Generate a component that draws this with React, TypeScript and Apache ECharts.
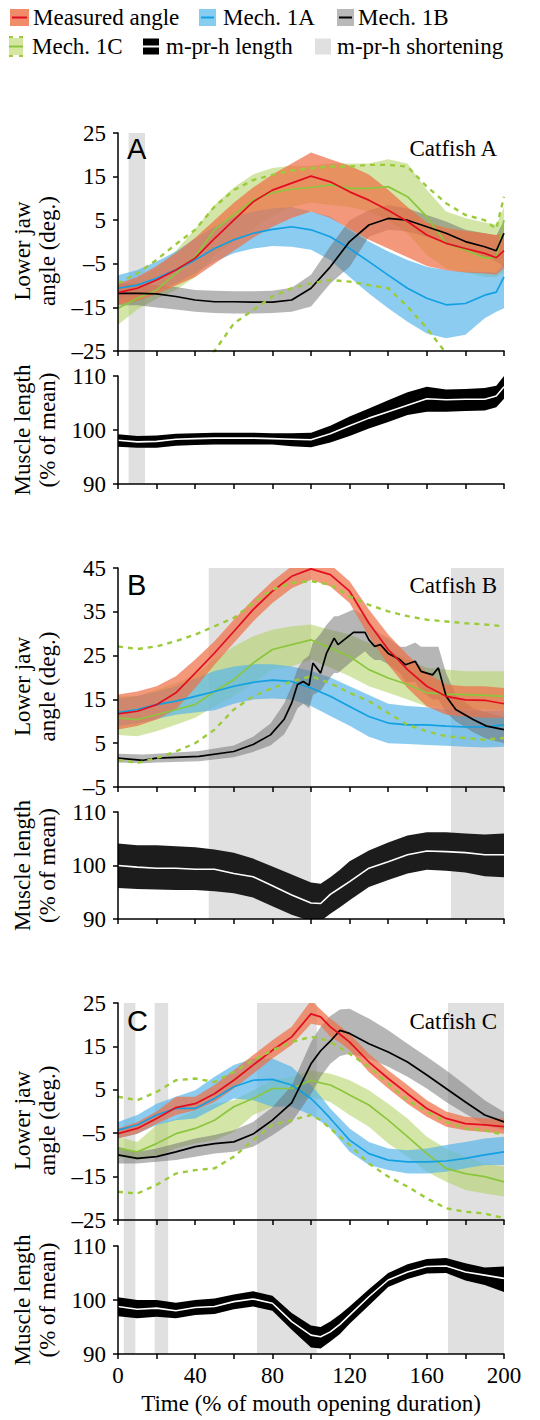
import React, { useEffect, useRef } from "react";
import * as echarts from "echarts";

// ---------- x positions (% of mouth opening duration) ----------
const X21 = [0, 10, 20, 30, 40, 50, 60, 70, 80, 90, 100, 110, 120, 130, 140, 150, 160, 170, 180, 190, 200];
const XA = [0, 10, 20, 30, 40, 50, 60, 70, 80, 90, 100, 110, 120, 130, 140, 150, 160, 170, 180, 190, 196, 200];
const X23 = [0, 10, 20, 30, 40, 50, 60, 70, 80, 90, 100, 105, 110, 115, 120, 130, 140, 150, 160, 170, 180, 190, 200];
const XB1 = [0, 13, 20, 42, 60, 70, 79, 86, 90, 93, 96, 99, 101, 105, 108, 112, 114, 122, 128, 130, 133, 136, 140, 143, 146, 149, 154, 157, 163, 166, 170, 175, 184, 191, 200];

// ---------- Catfish A ----------
const aMeasMean = [-11.6, -10.6, -8.7, -6.4, -3.7, 0.8, 5.0, 9.2, 11.9, 13.5, 15.1, 13.8, 11.5, 9.6, 7.3, 4.7, 1.6, -0.3, -1.5, -2.6, -3.6, -2.0];
const aMeasHi = [-9.5, -8, -5.5, -2.5, 1, 5, 9, 12.5, 15.5, 18, 20.5, 19, 17.5, 15.5, 12, 8, 4.5, 3.2, 2.5, 2, 1.6, 2];
const aMeasLo = [-14.4, -13.5, -12, -10, -8, -5, -2, 1, 3.5, 5.5, 7, 5.5, 3, 0.5, -1.5, -3.5, -5.5, -6.5, -7, -7.2, -7.5, -6];
const aBlueMean = [-10.6, -9.9, -8.3, -6.4, -4.1, -1.5, 0.5, 2.0, 2.9, 3.5, 2.8, 1.2, -1.5, -4.5, -7.6, -10.6, -12.9, -14.4, -14.1, -12.2, -11.5, -8.0];
const aBlueHi = [-7.6, -6.4, -4.5, -2.2, 0.8, 3.5, 5.8, 7.0, 7.7, 8.0, 7.0, 5.8, 2.8, 0.1, -2.2, -4.1, -5.7, -6.4, -6.8, -6.8, -7.0, -4.9];
const aBlueLo = [-12.9, -12.2, -11.0, -9.5, -7.2, -4.5, -2.6, -1.5, -0.9, -1.1, -1.8, -4.1, -8.0, -11.8, -15.2, -18.3, -21.0, -22.1, -21.3, -17.5, -16.0, -15.2];
const aBlackMean = [-11.8, -11.8, -11.9, -12.5, -13.3, -13.7, -13.7, -13.8, -13.8, -13.3, -10.6, -5.7, 0.1, 3.9, 5.4, 5.0, 3.5, 2.0, 0.1, -1.1, -2.0, 2.0];
const aGrayHi = [-9.5, -9.5, -10, -10.3, -11, -11.2, -11.3, -11.3, -11.2, -10.5, -7.5, -1, 5, 7.3, 8.5, 7.7, 6.2, 4.7, 2.8, 2, 1.5, 5];
const aGrayLo = [-14.5, -14.5, -15, -15.5, -16, -16.3, -16.4, -16.4, -16.3, -16, -14.8, -9.5, -5.7, 1.2, 2.8, 2.4, 1.2, -0.3, -2.2, -3.4, -4.5, -5.7];
const aGreenMean = [-15.2, -12.9, -11.0, -7.2, -3.4, 2.8, 6.2, 9.6, 11.3, 12.1, 12.5, 13.1, 12.3, 12.3, 12.7, 10.4, 5.8, -0.3, -1.8, -3.7, -3.6, 5.0];
const aGreenHi = [-10, -8.5, -6, -2, 3, 8.5, 12.5, 15.5, 17, 17.5, 17.5, 18, 18, 18, 19, 18, 12, 7, 5.5, 4.5, 4, 8];
const aGreenLo = [-19, -15.5, -13, -11, -8, -3, 0, 3, 6, 8, 9, 8.5, 8, 7, 5, 2, -3, -6, -7, -8, -8, -7];
const aGreenUp = [-9.5, -7.2, -4.1, -0.5, 2.8, 8.1, 11.9, 14.2, 15.4, 16.4, 16.9, 17.3, 17.3, 17.7, 17.7, 17.3, 12.7, 8.9, 6.2, 5.0, 3.0, 10.4];
const aGreenDown = [null, null, null, null, -31, -25, -18.7, -15.6, -12.5, -10.6, -9.5, -8.7, -9.1, -9.9, -10.6, -14.8, -19.8, -25.5, -32, null, null, null];
const aMuscleMean = [98.1, 97.8, 97.9, 98.3, 98.4, 98.5, 98.5, 98.5, 98.4, 98.3, 98.2, 99.3, 100.8, 102.2, 103.4, 104.6, 105.8, 105.6, 105.7, 105.7, 106.3, 108.0];
const aMuscleHi = [99.2, 98.9, 99.0, 99.3, 99.4, 99.5, 99.5, 99.5, 99.4, 99.4, 99.5, 100.8, 102.5, 104.0, 105.5, 107.0, 108.0, 107.5, 107.6, 107.8, 108.2, 110.0];
const aMuscleLo = [96.9, 96.7, 96.7, 97.1, 97.2, 97.3, 97.3, 97.3, 97.3, 97.0, 96.8, 97.7, 98.9, 100.3, 101.5, 102.8, 103.4, 103.4, 103.5, 103.6, 104.2, 105.8];
const aShort = [[5.5, 14]];

// ---------- Catfish B ----------
const bMeasMean = [11.7, 12.3, 13.8, 16.5, 21.0, 25.6, 30.5, 35.5, 39.7, 43.1, 44.8, 43.5, 39.7, 32.4, 26.4, 21.8, 18.0, 15.7, 14.9, 14.8, 14.0];
const bMeasHi = [16.1, 16.8, 18.0, 20.3, 24.1, 28.3, 33.2, 37.8, 42.0, 45.4, 46.9, 45.8, 42.0, 35.5, 29.8, 25.2, 21.0, 18.4, 18.0, 18.0, 17.6];
const bMeasLo = [8.1, 8.9, 10.4, 12.7, 17.6, 22.9, 27.9, 32.8, 37.0, 40.4, 42.3, 40.8, 37.0, 29.4, 22.9, 17.6, 13.4, 11.5, 11.1, 10.8, 10.8];
const bBlueMean = [12.0, 12.7, 13.8, 14.6, 15.7, 16.8, 18.0, 18.9, 19.4, 19.1, 17.6, 15.7, 13.4, 11.1, 9.6, 9.2, 9.2, 8.9, 8.7, 8.7, 9.2];
const bBlueHi = [15.2, 15.8, 16.8, 18, 19.8, 21.5, 22.5, 23, 23, 22.5, 21.5, 20, 18, 16, 14, 13.5, 13.2, 12.8, 12.5, 12.3, 12.5];
const bBlueLo = [9, 9.5, 10.5, 11.5, 12, 12.5, 14, 15, 15.2, 15, 13.5, 11.2, 9, 6.5, 5, 4.8, 4.6, 4.4, 4.2, 4, 4.2];
const bBlackMean = [1.6, 1.1, 1.6, 2.0, 3.1, 4.7, 6.9, 10.4, 14.2, 18.4, 19.1, 18.2, 23.3, 21.0, 25.5, 29.0, 27.5, 30.3, 30.3, 28.6, 27.1, 27.5, 25.5, 24.8, 24.1, 22.9, 23.7, 21.4, 20.6, 22.2, 15.7, 12.7, 10.4, 8.9, 8.1];
const bGrayHi = [2.6, 2.4, 2.6, 3.2, 4.5, 6.5, 9.5, 14, 18, 22, 24, 25, 28, 30, 32, 34, 34, 35.5, 34, 33, 31, 30, 29, 28, 27, 27, 28, 27, 27, 27, 21, 16, 13, 12, 11];
const bGrayLo = [0.6, 0.4, 0.6, 0.9, 1.8, 3.0, 4.5, 7, 10, 13, 14, 13, 16, 17, 19, 21, 21, 24, 26, 25, 24, 24, 23, 22, 21, 19, 19, 17, 15, 15, 12, 10, 7.5, 6, 5];
const bGreenMean = [10.8, 10.4, 11.5, 12.7, 13.8, 16.8, 19.5, 23.3, 26.4, 27.5, 28.6, 26.7, 24.8, 21.8, 19.9, 18.4, 16.5, 16.2, 16.1, 15.9, 15.7];
const bGreenHi = [15.7, 15.7, 17.2, 18.7, 20.6, 24.1, 27.1, 29.4, 30.9, 31.7, 32.1, 30.9, 29.8, 27.9, 26.4, 24.1, 22.2, 21.8, 21.4, 21.4, 21.4];
const bGreenLo = [6.9, 6.6, 7.7, 9.2, 10.8, 13.4, 15.7, 18.7, 21.8, 22.5, 24.1, 22.2, 20.3, 18.0, 16.5, 15.0, 13.4, 13.0, 12.7, 12.7, 12.7];
const bGreenUp = [27.1, 26.5, 27.1, 28.3, 29.8, 31.7, 33.6, 37.0, 40.1, 41.6, 42.0, 41.2, 38.5, 36.6, 35.1, 34.0, 33.2, 32.8, 32.4, 32.1, 31.7];
const bGreenDown = [1.2, 0.5, 1.6, 3.1, 5.0, 8.1, 12.7, 15.7, 17.6, 19.1, 20.3, 18.7, 16.5, 14.6, 11.9, 9.2, 7.7, 6.6, 6.2, 5.8, 6.2];
const bMuscleMean = [100.0, 99.7, 99.5, 99.5, 99.3, 99.3, 98.5, 97.9, 96.2, 94.5, 93.0, 92.9, 94.6, 95.8, 97.0, 99.5, 100.7, 102.0, 102.7, 102.6, 102.4, 102.0, 102.0];
const bMuscleHi = [104.1, 103.8, 103.8, 103.6, 103.4, 103.0, 102.4, 101.3, 99.8, 98.3, 96.8, 96.6, 97.8, 99.2, 100.8, 102.8, 104.3, 105.6, 106.2, 106.2, 106.0, 105.8, 106.0];
const bMuscleLo = [95.8, 95.6, 95.5, 95.4, 95.4, 95.2, 94.8, 94.0, 92.4, 90.8, 89.6, 89.6, 91.0, 92.2, 93.5, 96.0, 97.3, 98.5, 99.2, 99.0, 98.7, 98.0, 97.8];
const bShort = [[47, 100], [172.5, 200]];

// ---------- Catfish C ----------
const cMeasMean = [-5.1, -3.9, -1.6, 0.9, 1.8, 4.1, 7.2, 10.7, 14.1, 17.2, 22.5, 21.8, 19.5, 17.8, 16.0, 11.4, 7.6, 4.1, 0.7, -1.6, -2.8, -3.1, -3.5];
const cMeasHi = [-3.9, -2.4, 0.0, 3.4, 3.4, 6.1, 9.5, 13.0, 16.4, 19.5, 25.6, 23.5, 21.4, 19.7, 17.9, 13.3, 9.5, 6.1, 2.6, 0.0, -1.2, -1.6, -1.6];
const cMeasLo = [-6.2, -5.1, -2.8, -0.8, 0.3, 2.2, 5.3, 8.7, 12.2, 15.3, 20.2, 19.8, 17.2, 15.9, 14.1, 9.1, 5.3, 1.8, -1.2, -3.5, -4.3, -4.7, -5.1];
const cBlueMean = [-4.3, -3.1, -0.8, 0.7, 0.7, 3.0, 5.7, 7.2, 7.4, 6.1, 3.0, 0.8, -1.6, -4.1, -6.6, -9.7, -11.2, -11.6, -11.6, -11.4, -10.8, -10.0, -9.3];
const cBlueHi = [-2.4, -0.8, 1.8, 3.4, 4.9, 8.0, 10.7, 12.2, 12.2, 10.3, 6.1, 3.5, 0.7, -1.6, -3.9, -7.0, -8.5, -8.9, -8.5, -7.7, -7.0, -6.2, -5.8];
const cBlueLo = [-6.2, -5.1, -3.1, -2.0, -1.6, 0.7, 3.0, 2.6, 1.1, 1.1, -0.8, -2.3, -3.9, -6.6, -9.3, -12.3, -13.5, -14.3, -14.3, -13.9, -13.1, -12.3, -12.3];
const cBlackMean = [-10.0, -10.8, -10.4, -9.3, -8.1, -7.4, -7.0, -5.2, -2.0, 2.0, 11.0, 14.0, 16.2, 18.7, 18.0, 15.6, 13.7, 11.4, 8.4, 5.3, 2.2, -0.8, -2.4];
const cGrayHi = [-8.1, -9.3, -8.5, -7.4, -6.2, -5.4, -4.3, -2.4, 1.0, 6.0, 16.0, 19.5, 22.0, 23.5, 23.7, 21.4, 18.7, 15.6, 12.6, 9.5, 6.1, 2.6, -0.1];
const cGrayLo = [-12.0, -12.0, -11.6, -11.2, -10.4, -9.7, -9.3, -8.1, -5.5, -2.5, 4.0, 8.0, 11.0, 12.8, 13.3, 12.2, 10.3, 8.0, 5.3, 2.2, -0.5, -3.1, -4.3];
const cGreenMean = [-8.5, -9.3, -7.4, -5.1, -3.9, -2.0, 1.1, 3.0, 5.3, 5.3, 7.2, 6.6, 6.1, 5.0, 3.8, 1.5, -2.0, -5.8, -9.7, -13.1, -14.3, -15.0, -16.2];
const cGreenHi = [-5.8, -7.0, -3.1, -1.6, 0.3, 1.8, 2.6, 4.9, 7.2, 8.0, 9.5, 9.1, 8.7, 8.0, 7.2, 4.9, 1.8, -1.6, -5.8, -8.5, -10.4, -12.0, -12.7];
const cGreenLo = [-10.4, -11.2, -10.4, -8.5, -7.4, -6.6, -4.7, -0.8, 1.1, 1.8, 3.4, 2.8, 2.2, 0.7, -0.8, -3.5, -7.4, -10.4, -13.9, -16.2, -18.1, -18.9, -19.6];
const cGreenUp = [3.4, 2.6, 4.5, 7.2, 7.6, 6.8, 9.1, 11.8, 14.1, 16.0, 17.2, 16.8, 16.0, 14.7, 13.3, 10.3, 6.4, 2.6, 0.0, -2.4, -3.9, -4.3, -5.4];
const cGreenDown = [-18.5, -18.9, -16.9, -14.3, -13.5, -13.1, -10.4, -6.6, -3.1, -2.0, -0.8, -2.0, -3.9, -5.8, -7.7, -12.0, -15.0, -17.3, -20.0, -22.3, -23.1, -23.5, -24.6];
const cMuscleMean = [98.8, 98.3, 98.5, 98.0, 98.6, 98.8, 99.7, 100.2, 99.4, 96.0, 93.5, 93.2, 94.1, 95.5, 97.2, 100.6, 103.7, 105.2, 106.2, 106.3, 105.2, 104.6, 104.0];
const cMuscleHi = [100.5, 100.0, 100.0, 99.5, 100.0, 100.3, 101.0, 101.6, 100.8, 97.6, 95.3, 95.0, 96.0, 97.3, 98.8, 102.0, 105.0, 106.6, 107.6, 107.8, 106.8, 106.0, 106.2];
const cMuscleLo = [97.0, 96.6, 96.9, 96.6, 97.2, 97.4, 98.3, 98.8, 98.0, 94.5, 91.2, 91.0, 92.3, 93.7, 95.6, 99.0, 102.4, 103.9, 104.9, 105.0, 103.6, 102.8, 101.5];
const cShort = [[3, 9], [19, 26], [72, 103], [171, 200]];

// ---------- axis ticks / labels ----------
const angleRanges = [[-25, 25], [-5, 45], [-25, 25]];
const muscleRange = [90, 110];
const panelLetters = ["A", "B", "C"];
const panelNames = ["Catfish A", "Catfish B", "Catfish C"];
const legendLabels = ["Measured angle", "Mech. 1A", "Mech. 1B", "Mech. 1C", "m-pr-h length", "m-pr-h shortening"];

// ---------- styles ----------
const SERIF = "'Liberation Serif', 'Times New Roman', serif";
const SANS = "'Liberation Sans', Arial, sans-serif";
const FS = 23;
const C = {
  measBand: "rgba(238,112,70,0.72)",
  measLine: "#E30D20",
  blueBand: "rgba(85,180,235,0.68)",
  blueLine: "#12A0E3",
  grayBand: "rgba(110,110,110,0.5)",
  blackLine: "#000000",
  greenBand: "rgba(175,210,95,0.55)",
  greenLine: "#8CC63E",
  greenDash: "#9BCB3B",
  shade: "#E0E0E0",
};

const LEFT = 118;
const WIDTH = 386;
const gridBoxes = [
  { top: 133, height: 218 },
  { top: 376, height: 108 },
  { top: 568, height: 219 },
  { top: 812, height: 107 },
  { top: 1003, height: 217 },
  { top: 1246, height: 108 },
];
const shadeBoxes = [
  { top: 133, height: 351 },
  { top: 568, height: 351 },
  { top: 1003, height: 351 },
];

const zip = (xs: number[], ys: (number | null)[]) =>
  xs.map((x, i) => [x, ys[i]]).filter((p) => p[1] !== null && p[1] !== undefined);

// Band drawn as one polygon through the axis scales (custom series)
function band(g: number, xs: number[], lo: number[], hi: number[], color: string, z = 2) {
  const data = xs.map((x, i) => [x, lo[i], hi[i]]);
  const n = data.length;
  return {
    type: "custom", xAxisIndex: g, yAxisIndex: g, data, clip: true, silent: true, z,
    encode: { x: 0, y: [1, 2] },
    renderItem: (params: any, api: any) => {
      if (params.dataIndex !== 0) return null;
      const top: number[][] = [];
      const bot: number[][] = [];
      for (let j = 0; j < n; j++) {
        top.push(api.coord([api.value(0, j), api.value(2, j)]));
        bot.push(api.coord([api.value(0, j), api.value(1, j)]));
      }
      return {
        type: "polygon",
        shape: { points: top.concat(bot.reverse()) },
        style: { fill: color },
      };
    },
  };
}
function line(g: number, xs: number[], ys: (number | null)[], color: string, width = 1.7, dashed = false, z = 3) {
  return {
    type: "line", xAxisIndex: g, yAxisIndex: g, data: zip(xs, ys), symbol: "none", silent: true, z,
    lineStyle: { color, width, type: dashed ? [5, 5] : "solid", cap: "butt" },
  };
}

function anglePanel(g: number, d: any) {
  return [
    band(g, d.xs, d.greenLo, d.greenHi, C.greenBand),
    band(g, d.xs, d.blueLo, d.blueHi, C.blueBand),
    band(g, d.bx, d.grayLo, d.grayHi, C.grayBand),
    band(g, d.xs, d.measLo, d.measHi, C.measBand),
    line(g, d.xs, d.greenMean, C.greenLine),
    line(g, d.xs, d.blueMean, C.blueLine),
    line(g, d.bx, d.blackMean, C.blackLine),
    line(g, d.xs, d.measMean, C.measLine),
    line(g, d.xs, d.greenUp, C.greenDash, 2.4, true, 4),
    line(g, d.xs, d.greenDown, C.greenDash, 2.4, true, 4),
  ];
}
function musclePanel(g: number, xs: number[], mean: number[], lo: number[], hi: number[], fill: string) {
  return [band(g, xs, lo, hi, fill), line(g, xs, mean, "#ffffff", 1.6)];
}

function buildOption() {
  const grid: any[] = [
    ...gridBoxes.map((b) => ({ left: LEFT, width: WIDTH, top: b.top, height: b.height })),
    ...shadeBoxes.map((b) => ({ left: LEFT, width: WIDTH, top: b.top, height: b.height })),
  ];
  const axisLine = { show: true, onZero: false, lineStyle: { color: "#000", width: 1.5 } };
  const axisTick = { show: true, inside: false, length: 5, lineStyle: { color: "#000", width: 1.5 } };
  const fmtNum = (v: number) => (v < 0 ? "\u2013" + Math.abs(v) : String(v));
  const xAxis: any[] = [];
  const yAxis: any[] = [];
  for (let i = 0; i < 6; i++) {
    xAxis.push({
      type: "value", gridIndex: i, min: 0, max: 200, interval: 20, z: 6,
      axisLine, axisTick, splitLine: { show: false },
      axisLabel: {
        show: i === 5, margin: 10, color: "#000", fontFamily: SERIF, fontSize: FS,
        formatter: (v: number) => (v % 40 === 0 ? String(v) : ""),
      },
    });
    const range = i % 2 === 0 ? angleRanges[i / 2] : muscleRange;
    yAxis.push({
      type: "value", gridIndex: i, min: range[0], max: range[1], interval: 10, z: 6,
      axisLine, axisTick, splitLine: { show: false },
      axisLabel: { margin: 12, color: "#000", fontFamily: SERIF, fontSize: FS, formatter: fmtNum },
    });
  }
  for (let i = 0; i < 3; i++) {
    xAxis.push({ type: "value", gridIndex: 6 + i, min: 0, max: 200, show: false });
    yAxis.push({ type: "value", gridIndex: 6 + i, min: 0, max: 1, show: false });
  }

  const shorts = [aShort, bShort, cShort];
  const series: any[] = [];
  shorts.forEach((s, i) => {
    series.push({
      type: "line", xAxisIndex: 6 + i, yAxisIndex: 6 + i, data: [[0, 0]], symbol: "none",
      lineStyle: { opacity: 0 }, silent: true, z: 0,
      markArea: {
        silent: true, itemStyle: { color: C.shade },
        data: s.map((r) => [{ xAxis: r[0] }, { xAxis: r[1] }]),
      },
    });
  });

  series.push(
    ...anglePanel(0, {
      xs: XA, bx: XA, measMean: aMeasMean, measHi: aMeasHi, measLo: aMeasLo, blueMean: aBlueMean, blueHi: aBlueHi,
      blueLo: aBlueLo, blackMean: aBlackMean, grayHi: aGrayHi, grayLo: aGrayLo, greenMean: aGreenMean,
      greenHi: aGreenHi, greenLo: aGreenLo, greenUp: aGreenUp, greenDown: aGreenDown,
    }),
    ...musclePanel(1, XA, aMuscleMean, aMuscleLo, aMuscleHi, "#000000"),
    ...anglePanel(2, {
      xs: X21, bx: XB1, measMean: bMeasMean, measHi: bMeasHi, measLo: bMeasLo, blueMean: bBlueMean, blueHi: bBlueHi,
      blueLo: bBlueLo, blackMean: bBlackMean, grayHi: bGrayHi, grayLo: bGrayLo, greenMean: bGreenMean,
      greenHi: bGreenHi, greenLo: bGreenLo, greenUp: bGreenUp, greenDown: bGreenDown,
    }),
    ...musclePanel(3, X23, bMuscleMean, bMuscleLo, bMuscleHi, "#1c1c1c"),
    ...anglePanel(4, {
      xs: X23, bx: X23, measMean: cMeasMean, measHi: cMeasHi, measLo: cMeasLo, blueMean: cBlueMean, blueHi: cBlueHi,
      blueLo: cBlueLo, blackMean: cBlackMean, grayHi: cGrayHi, grayLo: cGrayLo, greenMean: cGreenMean,
      greenHi: cGreenHi, greenLo: cGreenLo, greenUp: cGreenUp, greenDown: cGreenDown,
    }),
    ...musclePanel(5, X23, cMuscleMean, cMuscleLo, cMuscleHi, "#000000"),
  );

  const txt = (text: string, x: number, y: number, opts: any = {}) => ({
    type: "text", x, y, rotation: opts.rotation || 0, z: 20, silent: true,
    style: {
      text, fill: "#000", fontFamily: opts.family || SERIF, fontSize: opts.size || FS,
      textAlign: opts.align || "left", textVerticalAlign: "middle",
      align: opts.align || "left", verticalAlign: "middle",
    },
  });

  const graphic: any[] = [];
  // Legend
  const r1 = 17.5, r2 = 46.5;
  graphic.push(
    { type: "rect", shape: { x: 10, y: r1 - 8.5, width: 19, height: 17 }, style: { fill: "rgb(240,140,105)" }, silent: true },
    { type: "line", shape: { x1: 12, y1: r1, x2: 27, y2: r1 }, style: { stroke: C.measLine, lineWidth: 2 }, silent: true },
    txt(legendLabels[0], 33, r1),
    { type: "rect", shape: { x: 199, y: r1 - 8.5, width: 17, height: 17 }, style: { fill: "rgb(135,205,242)" }, silent: true },
    { type: "line", shape: { x1: 201, y1: r1, x2: 214, y2: r1 }, style: { stroke: C.blueLine, lineWidth: 2 }, silent: true },
    txt(legendLabels[1], 223, r1),
    { type: "rect", shape: { x: 337, y: r1 - 8.5, width: 17, height: 17 }, style: { fill: "rgb(185,185,185)" }, silent: true },
    { type: "line", shape: { x1: 339, y1: r1, x2: 352, y2: r1 }, style: { stroke: "#000", lineWidth: 2 }, silent: true },
    txt(legendLabels[2], 358, r1),
    { type: "rect", shape: { x: 9, y: r2 - 8.5, width: 14, height: 17 }, style: { fill: "rgb(212,230,160)" }, silent: true },
    { type: "line", shape: { x1: 9, y1: r2, x2: 23, y2: r2 }, style: { stroke: C.greenLine, lineWidth: 2 }, silent: true },
    { type: "line", shape: { x1: 9, y1: r2 - 9.5, x2: 23, y2: r2 - 9.5 }, style: { stroke: C.greenDash, lineWidth: 2, lineDash: [4, 6] }, silent: true },
    { type: "line", shape: { x1: 9, y1: r2 + 9.5, x2: 23, y2: r2 + 9.5 }, style: { stroke: C.greenDash, lineWidth: 2, lineDash: [4, 6] }, silent: true },
    txt(legendLabels[3], 32, r2),
    { type: "rect", shape: { x: 143, y: r2 - 8, width: 16, height: 16 }, style: { fill: "#000" }, silent: true },
    { type: "line", shape: { x1: 143, y1: r2, x2: 159, y2: r2 }, style: { stroke: "#fff", lineWidth: 2 }, silent: true },
    txt(legendLabels[4], 166, r2),
    { type: "rect", shape: { x: 315, y: r2 - 8, width: 16, height: 16 }, style: { fill: C.shade }, silent: true },
    txt(legendLabels[5], 337, r2),
  );
  // Panel letters, names and axis titles
  const angleCenters = [242, 677.5, 1111.5];
  const muscleCenters = [430, 865.5, 1300];
  const letterY = [148.5, 585, 1021];
  for (let i = 0; i < 3; i++) {
    graphic.push(
      txt(panelLetters[i], 127, letterY[i], { family: SANS, size: 29 }),
      txt(panelNames[i], 497, letterY[i], { align: "right" }),
      txt("Lower jaw", 22, angleCenters[i] + 9, { align: "center", rotation: Math.PI / 2 }),
      txt("angle (deg.)", 47, angleCenters[i] + 9, { align: "center", rotation: Math.PI / 2 }),
      txt("Muscle length", 22, muscleCenters[i], { align: "center", rotation: Math.PI / 2 }),
      txt("(% of mean)", 47, muscleCenters[i], { align: "center", rotation: Math.PI / 2 }),
    );
  }
  graphic.push(txt("Time (% of mouth opening duration)", 311, 1403, { align: "center" }));

  return {
    animation: false,
    backgroundColor: "#ffffff",
    grid,
    xAxis,
    yAxis,
    series,
    graphic,
  };
}

export default function App() {
  const ref = useRef<HTMLDivElement>(null);
  useEffect(() => {
    if (!ref.current) return;
    const chart = echarts.init(ref.current, null, { renderer: "svg" });
    chart.setOption(buildOption() as any);
    return () => chart.dispose();
  }, []);
  return <div ref={ref} style={{ position: "absolute", left: 0, top: 0, width: 540, height: 1420 }} />;
}
